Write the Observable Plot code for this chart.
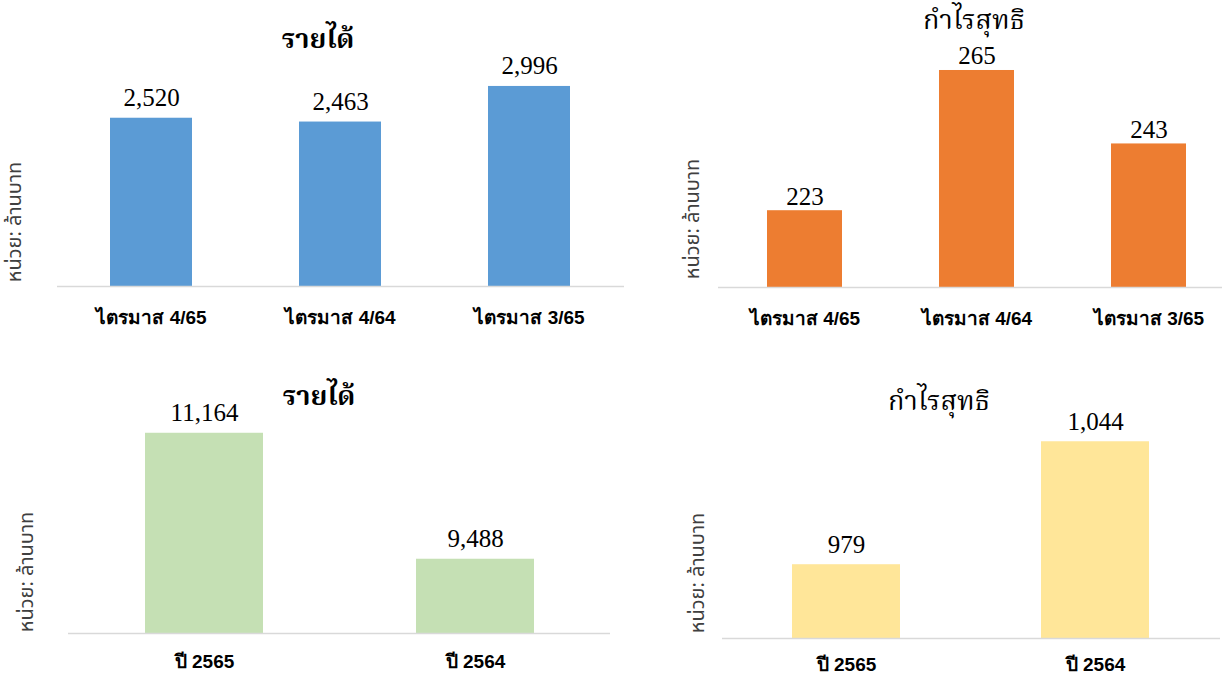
<!DOCTYPE html>
<html><head><meta charset="utf-8">
<script src="https://cdn.jsdelivr.net/npm/d3@7"></script>
<script src="https://cdn.jsdelivr.net/npm/@observablehq/plot@0.6"></script>
<style>
body{margin:0;background:#fff;}
#root{position:relative;width:1222px;height:674px;overflow:hidden;background:#fff;}
.panel{position:absolute;left:0;}
.title{position:absolute;transform:translate(-50%,-50%);font-family:"Norasi","Noto Serif Thai","Liberation Serif","DejaVu Serif",serif;font-size:27px;color:#000;white-space:nowrap;line-height:1;}
.ylab{position:absolute;transform:translate(-50%,-50%) rotate(-90deg);font-family:"Noto Sans Thai","Liberation Sans","DejaVu Sans",sans-serif;font-size:20px;color:#404040;white-space:nowrap;line-height:1;}
</style>
</head><body>
<div id="root"></div>
<script>
const quarterLabels = ["ไตรมาส 4/65", "ไตรมาส 4/64", "ไตรมาส 3/65"];
const quarterRevenue = [2520, 2463, 2996];
const quarterProfit = [223, 265, 243];
const yearLabels = ["ปี 2565", "ปี 2564"];
const yearRevenue = [11164, 9488];
const yearProfit = [979, 1044];
const titleRevenue = "รายได้";
const titleProfit = "กำไรสุทธิ";
const unitLabel = "หน่วย: ล้านบาท";

const root = document.getElementById("root");
const fmt = d3.format(",");

function panel(o) {
  const data = o.labels.map((l, i) => ({label: l, value: o.values[i]}));
  const svg = Plot.plot({
    width: 1222, height: o.height,
    marginLeft: o.marginLeft, marginRight: o.marginRight,
    marginTop: 0, marginBottom: o.marginBottom,
    style: {background: "transparent", overflow: "visible"},
    x: {domain: o.labels, range: o.xRange, paddingInner: 0.565, paddingOuter: 0.2825, label: null},
    y: {domain: o.yDomain, range: o.yRange, axis: null},
    marks: [
      Plot.barY(data, {x: "label", y1: o.yDomain[0], y2: "value", fill: o.color}),
      Plot.ruleY([o.yDomain[0]], {stroke: "#d9d9d9", strokeWidth: 1.5}),
      Plot.text(data, {x: "label", y: "value", text: d => fmt(d.value), lineAnchor: "bottom", dy: o.labelDy,
        fontSize: 25, fontFamily: "Liberation Serif, serif", fill: "#000"}),
      Plot.axisX({tickSize: 0, tickPadding: o.tickPadding, fontSize: 19, fontWeight: "bold",
        fontFamily: "Liberation Sans Narrow, Arial Narrow, Liberation Sans, sans-serif", fill: "#000", label: null})
    ]
  });
  const div = document.createElement("div");
  div.className = "panel";
  div.style.top = o.top + "px";
  div.appendChild(svg);
  root.appendChild(div);
}

function addText(cls, text, x, y, bold) {
  const d = document.createElement("div");
  d.className = cls;
  d.textContent = text;
  d.style.left = x + "px";
  d.style.top = y + "px";
  if (bold) d.style.fontWeight = "bold";
  root.appendChild(d);
}

panel({labels: quarterLabels, values: quarterRevenue, color: "#5B9BD5", top: 0, height: 340,
  marginLeft: 57, marginRight: 598, marginBottom: 54, xRange: [57, 624],
  yDomain: [0, 3500], yRange: [286, 52.3], tickPadding: 24, labelDy: -12});
panel({labels: quarterLabels, values: quarterProfit, color: "#ED7D31", top: 0, height: 340,
  marginLeft: 718, marginRight: 0, marginBottom: 53, xRange: [718, 1234],
  yDomain: [200, 270], yRange: [287, 53.3], tickPadding: 24, labelDy: -6});
panel({labels: yearLabels, values: yearRevenue, color: "#C5E0B4", top: 340, height: 334,
  marginLeft: 68, marginRight: 612, marginBottom: 41, xRange: [68, 610],
  yDomain: [8500, 11500], yRange: [293, 67.5], tickPadding: 21, labelDy: -12});
panel({labels: yearLabels, values: yearProfit, color: "#FFE699", top: 340, height: 334,
  marginLeft: 722, marginRight: 2, marginBottom: 36, xRange: [722, 1220],
  yDomain: [940, 1060], yRange: [298, 71], tickPadding: 19, labelDy: -12});

addText("title", titleRevenue, 318, 40, true);
addText("title", titleProfit, 974, 21, false);
addText("title", titleRevenue, 319, 397, true);
addText("title", titleProfit, 939, 402, false);
addText("ylab", unitLabel, 15, 222);
addText("ylab", unitLabel, 693, 219);
addText("ylab", unitLabel, 27, 572);
addText("ylab", unitLabel, 698, 573);
</script>
</body></html>
